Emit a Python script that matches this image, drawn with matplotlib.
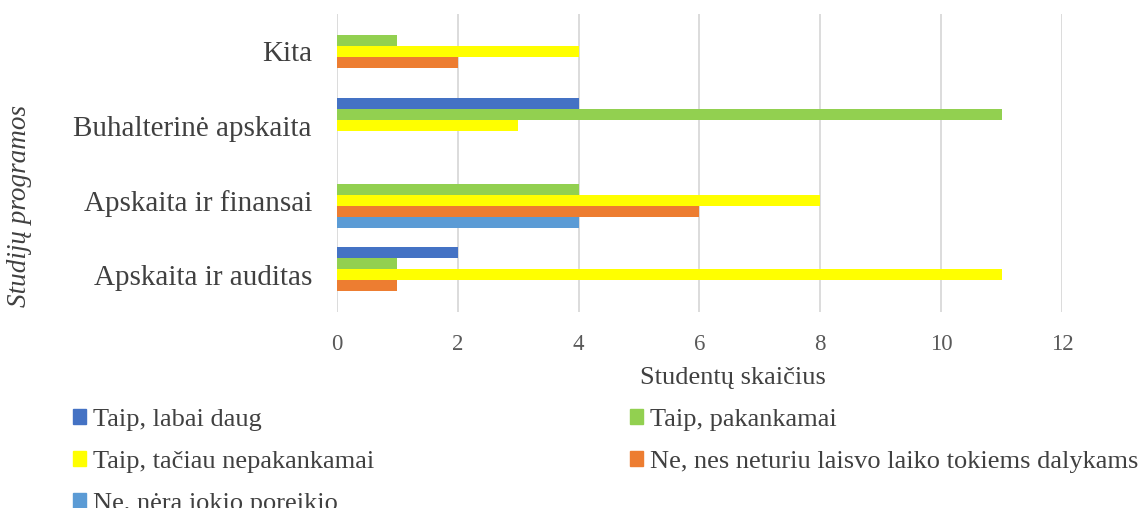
import numpy as np
import matplotlib.pyplot as plt
from matplotlib.patches import Patch

plt.rcParams['font.family'] = ['Liberation Serif', 'DejaVu Serif']

programs = ['Apskaita ir auditas', 'Apskaita ir finansai', 'Buhalterinė apskaita', 'Kita']
series = ['Taip, labai daug', 'Taip, pakankamai', 'Taip, tačiau nepakankamai',
          'Ne, nes neturiu laisvo laiko tokiems dalykams', 'Ne, nėra jokio poreikio']
labai_daug = [2, 0, 4, 0]
pakankamai = [1, 4, 11, 1]
taciau_nepakankamai = [11, 8, 3, 4]
neturiu_laiko = [1, 6, 0, 2]
nera_poreikio = [0, 4, 0, 0]
colors = ['#4472C4', '#92D050', '#FFFF00', '#ED7D31', '#5B9BD5']

values = [labai_daug, pakankamai, taciau_nepakankamai, neturiu_laiko, nera_poreikio]

fig = plt.figure(figsize=(11.45, 5.08), dpi=100)
ax = fig.add_axes([0.2943, 0.3858, 0.6332, 0.5866])

y = np.arange(len(programs))
h = 0.148
for i, vals in enumerate(values):
    ax.barh(y + (2 - i) * h, vals, height=h, color=colors[i], label=series[i], zorder=3)

ax.set_xlim(0, 12)
ax.set_ylim(-0.5, 3.5)
ax.set_xticks(range(0, 13, 2))
ax.set_yticks(y)
ax.set_yticklabels(programs, fontsize=21, color='#404040')
ax.tick_params(axis='x', labelsize=16.5, labelcolor='#595959', length=0, pad=16)
ax.tick_params(axis='y', length=0, pad=18)
ax.grid(axis='x', color='#D9D9D9', linewidth=1.3, zorder=0)
for s in ax.spines.values():
    s.set_visible(False)

fig.text(733 / 1145, 1 - 378 / 508, 'Studentų skaičius', fontsize=19, color='#404040',
         ha='center', va='center')
fig.text(20 / 1145, 1 - 206 / 508, 'Studijų programos', fontsize=19.5, color='#404040',
         style='italic', rotation=90, ha='center', va='center')

order = [0, 2, 4, 1, 3]
handles = [Patch(color=colors[i]) for i in order]
labels = [series[i] for i in order]
fig.legend(handles, labels, ncol=2, loc='upper left', bbox_to_anchor=(73 / 1145, 1 - 409 / 508),
           frameon=False, fontsize=19, handlelength=0.5, handleheight=0.5, handletextpad=0.25,
           columnspacing=9.7, labelspacing=0.75, labelcolor='#404040', borderpad=0, borderaxespad=0)

fig.savefig('out.png', dpi=100)
